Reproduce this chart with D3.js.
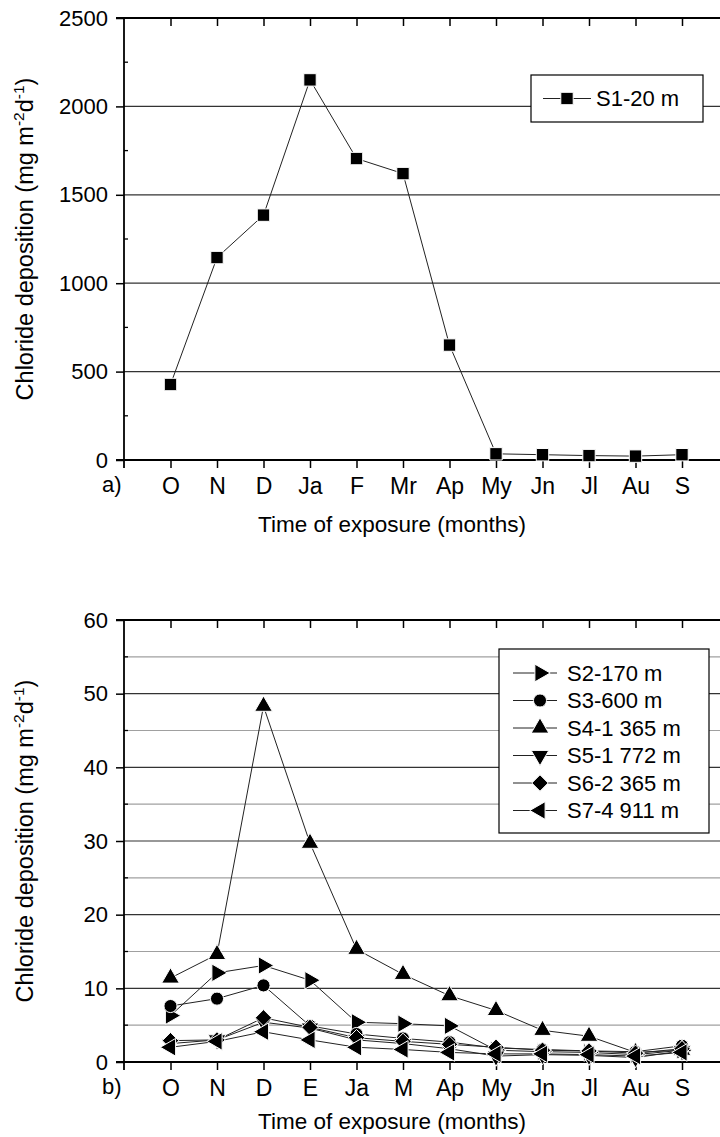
<!DOCTYPE html>
<html><head><meta charset="utf-8">
<script src="https://cdn.jsdelivr.net/npm/d3@7/dist/d3.min.js"></script>
<style>body{margin:0;background:#fff}svg{display:block;font-family:"Liberation Sans",Arial,sans-serif}</style>
</head><body><svg id="c" width="720" height="1137"></svg>
<script>
const monthsA = ["O","N","D","Ja","F","Mr","Ap","My","Jn","Jl","Au","S"];
const s1 = [427,1145,1385,2150,1705,1620,650,35,30,25,22,30];
const yTicksA = [0,500,1000,1500,2000,2500];

const monthsB = ["O","N","D","E","Ja","M","Ap","My","Jn","Jl","Au","S"];
const s2 = [6.3,12.1,13.1,11.1,5.4,5.2,4.9,1.6,1.4,1.3,1.0,1.6];
const s3 = [7.6,8.6,10.4,4.9,3.8,3.2,2.7,1.9,1.7,1.5,1.4,2.2];
const s4 = [11.4,14.6,48.3,29.7,15.3,11.9,9.0,7.0,4.3,3.5,1.3,1.6];
const s5 = [2.5,3.0,5.4,4.6,3.0,2.5,1.8,0.8,1.0,0.9,0.6,1.5];
const s6 = [2.9,3.0,6.0,4.7,3.3,2.8,2.4,2.0,1.6,1.5,1.2,1.8];
const s7 = [2.0,2.8,4.1,3.0,2.0,1.7,1.3,1.1,1.1,1.0,0.8,1.3];
const seriesNames = ["S2-170 m","S3-600 m","S4-1 365 m","S5-1 772 m","S6-2 365 m","S7-4 911 m"];
const yTicksB = [0,10,20,30,40,50,60];

const svg = d3.select("#c");
const L = 124, R = 732;
const FONT = "Liberation Sans, Arial, sans-serif";

const tri = d3.symbol().type(d3.symbolTriangle).size(135);
function marker(g, type, x, y){
  let d, rot = 0;
  if(type==="square") d = "M-6.2,-6.2H6.2V6.2H-6.2Z";
  else if(type==="circle") d = d3.symbol().type(d3.symbolCircle).size(135)();
  else if(type==="diamond") d = "M0,-8.2L8.2,0L0,8.2L-8.2,0Z";
  else { d = tri(); rot = {up:0,down:180,right:90,left:-90}[type]; }
  g.append("path").attr("d", d).attr("fill","#000").attr("stroke","#fff").attr("stroke-width",1)
    .attr("transform",`translate(${x},${y}) rotate(${rot})`);
}

function panel(cfg){
  const g = svg.append("g");
  const x = d3.scalePoint().domain(cfg.months).range([170.5,682]);
  const y = d3.scaleLinear().domain([0,cfg.max]).range([cfg.bottom,cfg.top]);
  if(cfg.minorGrid){
    cfg.minorGrid.forEach(v=>{
      g.append("line").attr("x1",L).attr("x2",R).attr("y1",y(v)).attr("y2",y(v)).attr("stroke","#a0a0a0").attr("stroke-width",1.2);
    });
  }
  cfg.ticks.filter(v=>v>0&&v<cfg.max).forEach(v=>{
    g.append("line").attr("x1",L).attr("x2",R).attr("y1",y(v)).attr("y2",y(v)).attr("stroke","#333").attr("stroke-width",1.2);
  });
  const ya = d3.axisLeft(y).tickValues(cfg.ticks).tickSize(8).tickPadding(8).tickFormat(d3.format("d"));
  const yg = g.append("g").attr("transform",`translate(${L},0)`).call(ya);
  yg.select(".domain").remove();
  g.append("line").attr("x1",L).attr("x2",L).attr("y1",cfg.top).attr("y2",cfg.bottom+8).attr("stroke","#000").attr("stroke-width",1.8);
  yg.selectAll(".tick line").attr("stroke","#000").attr("stroke-width",1.5);
  yg.selectAll("text").attr("font-size",22).attr("font-family",FONT).attr("fill","#000");
  cfg.minorTicks.forEach(v=>{
    g.append("line").attr("x1",L).attr("x2",L+4).attr("y1",y(v)).attr("y2",y(v)).attr("stroke","#000").attr("stroke-width",1.3);
  });
  const xa = d3.axisBottom(x).tickSize(8).tickPadding(9.5);
  const xg = g.append("g").attr("transform",`translate(0,${cfg.bottom})`).call(xa);
  xg.select(".domain").remove();
  g.append("line").attr("x1",L-8).attr("x2",R).attr("y1",cfg.bottom).attr("y2",cfg.bottom).attr("stroke","#000").attr("stroke-width",1.8);
  xg.selectAll(".tick line").attr("stroke","#000").attr("stroke-width",1.5);
  xg.selectAll("text").attr("font-size",23).attr("font-family",FONT).attr("fill","#000");
  const xt = d3.axisBottom(x).tickSize(8).tickFormat("");
  const tg = g.append("g").attr("transform",`translate(0,${cfg.top})`).call(xt);
  tg.select(".domain").remove();
  tg.selectAll(".tick line").attr("stroke","#000").attr("stroke-width",1.5);
  g.append("line").attr("x1",L-8).attr("x2",R).attr("y1",cfg.top).attr("y2",cfg.top).attr("stroke","#000").attr("stroke-width",1.8);
  g.append("text").attr("x",102).attr("y",cfg.bottom+32).attr("font-size",22).text(cfg.label);
  g.append("text").attr("x",392).attr("y",cfg.bottom+cfg.titleOff).attr("text-anchor","middle").attr("font-size",22.5).text("Time of exposure (months)");
  const yt = g.append("text").attr("transform",`translate(33,${(cfg.top+cfg.bottom)/2}) rotate(-90)`).attr("text-anchor","middle").attr("font-size",23.5);
  yt.append("tspan").text("Chloride deposition (mg m");
  yt.append("tspan").attr("dy",-9).attr("font-size",15.5).text("-2");
  yt.append("tspan").attr("dy",9).text("d");
  yt.append("tspan").attr("dy",-9).attr("font-size",15.5).text("-1");
  yt.append("tspan").attr("dy",9).text(")");
  return {g,x,y};
}

const line = d3.line();

// Panel a
const A = panel({months:monthsA,max:2500,top:18,bottom:460,ticks:yTicksA,minorTicks:[250,750,1250,1750,2250],label:"a)",titleOff:72});
A.g.append("path").attr("d",line(s1.map((v,i)=>[A.x(monthsA[i]),A.y(v)]))).attr("fill","none").attr("stroke","#222").attr("stroke-width",1);
s1.forEach((v,i)=>marker(A.g,"square",A.x(monthsA[i]),A.y(v)));
A.g.append("rect").attr("x",531).attr("y",75).attr("width",172).attr("height",47).attr("fill","#fff").attr("stroke","#000").attr("stroke-width",1.2);
A.g.append("line").attr("x1",543).attr("x2",591).attr("y1",98.5).attr("y2",98.5).attr("stroke","#222");
marker(A.g,"square",567,98.5);
A.g.append("text").attr("x",596).attr("y",98.5).attr("dy","0.35em").attr("font-size",22).text("S1-20 m");

// Panel b
const B = panel({months:monthsB,max:60,top:620,bottom:1062,ticks:yTicksB,minorTicks:[5,15,25,35,45,55],minorGrid:[5,15,25,35,45,55],label:"b)",titleOff:67});
const bSeries = [s2,s3,s4,s5,s6,s7];
const bTypes = ["right","circle","up","down","diamond","left"];
bSeries.forEach(s=>{
  B.g.append("path").attr("d",line(s.map((v,i)=>[B.x(monthsB[i]),B.y(v)]))).attr("fill","none").attr("stroke","#222").attr("stroke-width",1);
});
bSeries.forEach((s,k)=>s.forEach((v,i)=>marker(B.g,bTypes[k],B.x(monthsB[i]),B.y(v))));
B.g.append("rect").attr("x",499).attr("y",649).attr("width",210).attr("height",184).attr("fill","#fff").attr("stroke","#000").attr("stroke-width",1.2);
seriesNames.forEach((n,k)=>{
  const yy = 673 + k*27.5;
  B.g.append("line").attr("x1",513).attr("x2",557).attr("y1",yy).attr("y2",yy).attr("stroke","#222");
  marker(B.g,bTypes[k],540,yy);
  B.g.append("text").attr("x",567).attr("y",yy).attr("dy","0.35em").attr("font-size",22).text(n);
});
</script></body></html>
